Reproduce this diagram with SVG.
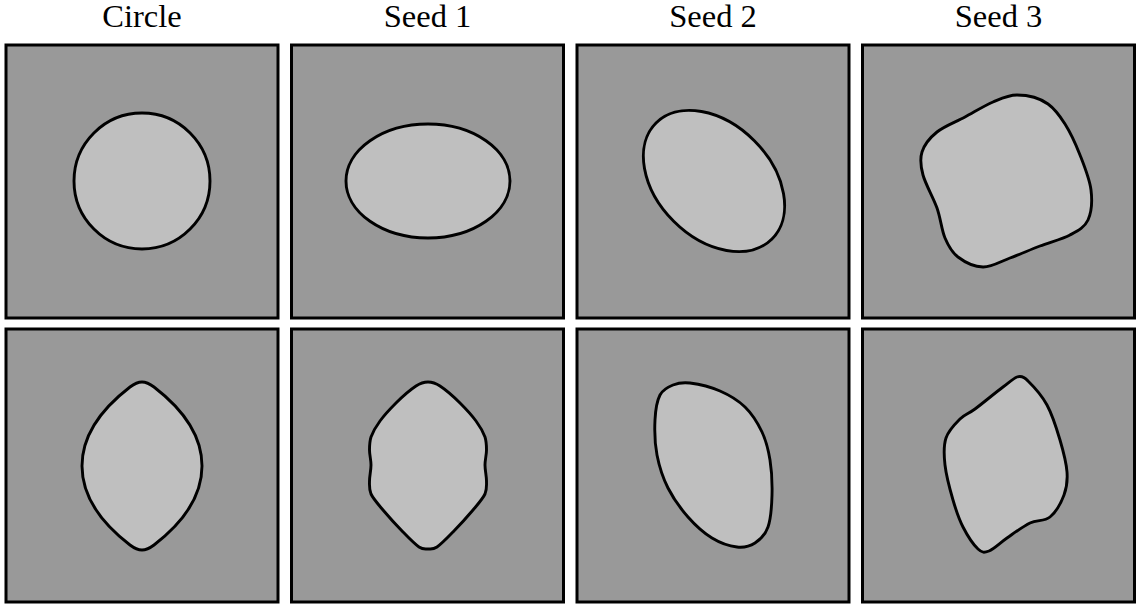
<svg xmlns="http://www.w3.org/2000/svg" width="1139" height="606" viewBox="0 0 1139 606">
<style>
.bg{fill:#999999;stroke:#000;stroke-width:3}
.sh{fill:#bfbfbf;stroke:#000;stroke-width:2.9;stroke-linejoin:round}
.t{font-family:"Liberation Serif","Times New Roman",serif;font-size:32.5px;fill:#000;text-anchor:middle}
</style>
<rect width="1139" height="606" fill="#fff"/>
<g id="titles">
<text class="t" x="142" y="27">Circle</text>
<text class="t" x="427.5" y="27">Seed 1</text>
<text class="t" x="713" y="27">Seed 2</text>
<text class="t" x="998.5" y="27">Seed 3</text>
</g>
<g id="panel-circle-top">
<rect class="bg" x="6" y="45" width="272" height="273"/>
<circle class="sh" cx="142" cy="181" r="68"/>
</g>
<g id="panel-seed1-top">
<rect class="bg" x="291.5" y="45" width="272" height="273"/>
<ellipse class="sh" cx="428" cy="181" rx="82" ry="57"/>
</g>
<g id="panel-seed2-top">
<rect class="bg" x="577" y="45" width="272" height="273"/>
<ellipse class="sh" cx="714" cy="181" rx="82" ry="57" transform="rotate(45 714 181)"/>
</g>
<g id="panel-seed3-top">
<rect class="bg" x="862.5" y="45" width="272" height="273"/>
<path class="sh" d="M1017,95 C1027,95 1039,97.5 1048,104 C1055,109 1059.5,115.3 1065,124 C1070.5,132.7 1075.7,144 1080,155 C1084.3,166 1089.7,179.2 1091,190 C1092.3,200.8 1091.5,212.5 1088,220 C1084.5,227.5 1078,230.7 1070,235 C1062,239.3 1050,242.2 1040,246 C1030,249.8 1019.5,254.5 1010,258 C1000.5,261.5 991.7,267.2 983,267 C974.3,266.8 964.3,261.8 958,257 C951.7,252.2 948.5,246.2 945,238 C941.5,229.8 940.7,218.5 937,208 C933.3,197.5 925.5,184.3 923,175 C920.5,165.7 919.7,159.2 922,152 C924.3,144.8 929.8,137.8 937,132 C944.2,126.2 955.7,122 965,117 C974.3,112 984.3,105.7 993,102 C1001.7,98.3 1008,95 1017,95 Z"/>
</g>
<g id="panel-circle-bottom">
<rect class="bg" x="6" y="329" width="272" height="273"/>
<path class="sh" d="M142,382 C147,382 150,384 154,387 C180,407 202,434 202,466 C202,498 180,525 154,545 C150,548 147,550 142,550 C137,550 134,548 130,545 C104,525 82,498 82,466 C82,434 104,407 130,387 C134,384 137,382 142,382 Z"/>
</g>
<g id="panel-seed1-bottom">
<rect class="bg" x="291.5" y="329" width="272" height="273"/>
<path class="sh" d="M428,382 C432,382 434.7,382.5 440,386 C445.3,389.5 454,397 460,403 C466,409 471.8,415.3 476,421 C480.2,426.7 483.2,432.2 485,437 C486.5,441.8 486.5,445.3 486.5,450 C486.5,454.7 485,459.8 485,465 C485,470.2 486.5,476.2 486.5,481 C486.5,485.8 487,489.2 485,494 C482.7,498.8 478.3,503.7 473,510 C467.7,516.3 459,525.8 453,532 C447,538.2 441.2,544.2 437,547 C432.8,549.8 431,549 428,549 C425,549 423.2,549.8 419,547 C414.8,544.2 409,538.2 403,532 C397,525.8 388.3,516.3 383,510 C377.7,503.7 373.3,498.8 371,494 C369,489.2 369.5,485.8 369.5,481 C369.5,476.2 371,470.2 371,465 C371,459.8 369.5,454.7 369.5,450 C369.5,445.3 369.5,441.8 371,437 C372.8,432.2 375.8,426.7 380,421 C384.2,415.3 390,409 396,403 C402,397 410.7,389.5 416,386 C421.3,382.5 424,382 428,382 Z"/>
</g>
<g id="panel-seed2-bottom">
<rect class="bg" x="577" y="329" width="272" height="273"/>
<path class="sh" d="M690,383 C697.8,384 710.8,387 720,391 C729.2,395 738,400.2 745,407 C752,413.8 757.8,423.2 762,432 C766.2,440.8 768.3,449.5 770,460 C771.7,470.5 772.3,483.8 772,495 C771.7,506.2 770.8,519 768,527 C765.2,535 760.2,539.7 755,543 C749.8,546.3 744.2,547.8 737,547 C729.8,546.2 720.2,543 712,538 C703.8,533 695.3,525.3 688,517 C680.7,508.7 673.2,498.3 668,488 C662.8,477.7 659.2,466.3 657,455 C654.8,443.7 654.5,430 655,420 C655.5,410 657,400.8 660,395 C663,389.2 668,387 673,385 C678,383 682.2,382 690,383 Z"/>
</g>
<g id="panel-seed3-bottom">
<rect class="bg" x="862.5" y="329" width="272" height="273"/>
<path class="sh" d="M1017,377 C1021,375.5 1024,376.5 1028,381 C1032.8,385.7 1041.7,395.2 1047,405 C1052.3,414.8 1056.7,428.8 1060,440 C1063.3,451.2 1066.3,462.8 1067,472 C1067.7,481.2 1066.8,487.5 1064,495 C1061.2,502.5 1055.7,512.3 1050,517 C1044.3,521.7 1037.2,519.5 1030,523 C1022.8,526.5 1013.8,533.3 1007,538 C1000.2,542.7 993.8,549.2 989,551 C984.2,552.8 982.3,553 978,549 C973.7,545 967.2,535.2 963,527 C958.8,518.8 956,510.3 953,500 C950,489.7 946.2,475.3 945,465 C943.8,454.7 943.5,445.7 946,438 C948.5,430.3 955.2,423.8 960,419 C964.8,414.2 967.8,414.3 975,409 C982.2,403.7 995.8,392.3 1003,387 C1009,382.5 1013,378.5 1017,377 Z"/>
</g>
</svg>
